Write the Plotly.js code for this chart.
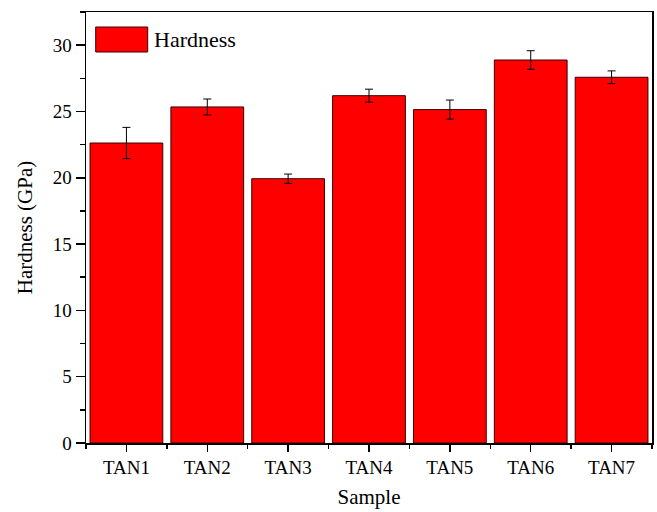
<!DOCTYPE html>
<html><head><meta charset="utf-8">
<script src="https://cdn.plot.ly/plotly-3.0.1.min.js"></script>
<style>html,body{margin:0;padding:0;background:#fff}#chart{width:657px;height:512px}</style>
</head><body><div id="chart"></div>
<script>
const categories = ["TAN1","TAN2","TAN3","TAN4","TAN5","TAN6","TAN7"];
const hardness = [22.62, 25.34, 19.93, 26.19, 25.14, 28.88, 27.58];
const hardnessErr = [1.18, 0.60, 0.35, 0.49, 0.72, 0.70, 0.48];
const seriesName = "Hardness";

const positions = categories.map((c, i) => i + 1);
const font = "Liberation Serif, Times New Roman, serif";

const trace = {
  type: "bar",
  x: positions,
  y: hardness,
  name: seriesName,
  showlegend: false,
  marker: {color: "#ff0000", line: {color: "#3a0000", width: 1}},
  error_y: {type: "data", array: hardnessErr, visible: true, color: "#000", thickness: 1, width: 4}
};

const layout = {
  width: 657, height: 512,
  margin: {l: 86, r: 5, t: 12, b: 69},
  paper_bgcolor: "#fff", plot_bgcolor: "#fff",
  bargap: 0.1,
  font: {family: font, color: "#000", size: 19},
  xaxis: {
    range: [0.5, 7.5],
    tickvals: positions, ticktext: categories,
    ticks: "outside", ticklen: 7, tickwidth: 1.5, tickcolor: "#000",
    minor: {tickmode: "linear", tick0: 0.5, dtick: 1, ticks: "outside", ticklen: 4, tickwidth: 1.5, tickcolor: "#000"},
    showline: true, linecolor: "#000", linewidth: 1.5, mirror: true,
    showgrid: false, zeroline: false,
    tickfont: {size: 19, family: font},
    title: {text: "Sample", font: {size: 21, family: font}, standoff: 12}
  },
  yaxis: {
    range: [0, 32.5],
    dtick: 5, tick0: 0,
    ticks: "outside", ticklen: 9, tickwidth: 1.5, tickcolor: "#000",
    minor: {dtick: 2.5, ticks: "outside", ticklen: 5, tickwidth: 1.5, tickcolor: "#000"},
    showline: true, linecolor: "#000", linewidth: 1.5, mirror: true,
    showgrid: false, zeroline: false,
    tickfont: {size: 19, family: font},
    title: {text: "Hardness (GPa)", font: {size: 21, family: font}, standoff: 14}
  },
  shapes: [{
    type: "rect", xref: "paper", yref: "paper",
    x0: (95.7-86)/566, x1: (147.7-86)/566,
    y0: (443-52)/431, y1: (443-27)/431,
    fillcolor: "#ff0000", line: {color: "#3a0000", width: 1}
  }],
  annotations: [{
    xref: "paper", yref: "paper",
    x: (152-86)/566, y: (443-39.5)/431,
    xanchor: "left", yanchor: "middle",
    text: seriesName, showarrow: false,
    font: {size: 22, family: font, color: "#000"}
  }]
};

Plotly.newPlot("chart", [trace], layout, {displayModeBar: false, staticPlot: true});
</script>
</body></html>
